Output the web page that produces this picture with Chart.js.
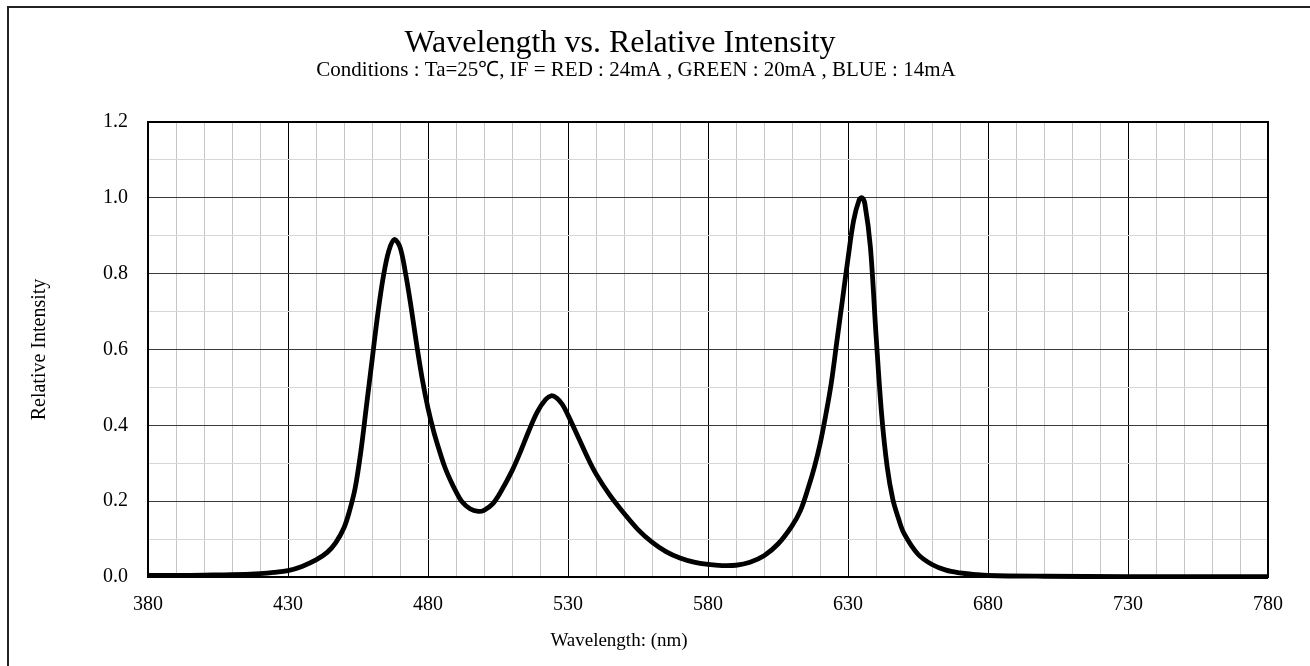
<!DOCTYPE html>
<html>
<head>
<meta charset="utf-8">
<title>Wavelength vs. Relative Intensity</title>
<script src="https://cdn.jsdelivr.net/npm/chart.js@4.4.1/dist/chart.umd.min.js"></script>
<style>
    html, body { margin: 0; padding: 0; background: #fff; }
    #wrap { width: 1310px; height: 666px; }
</style>
</head>
<body>
<div id="wrap"><canvas id="spectrumChart" width="1310" height="666"></canvas></div>
<script>
// Spectrum
const wavelengths = [
    380, 390, 400, 410, 420, 425, 430, 435, 440, 444, 447, 450, 452, 454, 456, 458,
    460, 462, 464, 466, 468, 470, 472, 474, 476, 478, 480, 482, 484, 486, 488,
    490, 492, 495, 498, 500, 503, 506, 510, 513, 516, 519, 522, 524, 526, 528, 530,
    534, 537, 540, 545, 550, 555, 560, 565, 570, 575, 580, 585, 590, 595, 600, 605,
    610, 613, 616, 618, 620, 622, 624, 626, 628, 630, 632, 634, 635, 636, 638,
    640, 642, 644, 646, 648, 650, 655, 660, 665, 670, 675, 680, 700, 730, 780
];
const intensity = [
    0.004, 0.004, 0.005, 0.006, 0.009, 0.012, 0.017, 0.028, 0.045, 0.065, 0.09, 0.13, 0.175, 0.235, 0.33, 0.45,
    0.57, 0.69, 0.79, 0.86, 0.89, 0.87, 0.80, 0.71, 0.61, 0.52, 0.445, 0.385, 0.335, 0.29, 0.255,
    0.225, 0.20, 0.18, 0.173, 0.176, 0.192, 0.225, 0.28, 0.33, 0.385, 0.435, 0.468, 0.478, 0.472, 0.455, 0.427,
    0.363, 0.315, 0.272, 0.215, 0.168, 0.125, 0.092, 0.067, 0.05, 0.039, 0.033, 0.030, 0.031, 0.039, 0.056, 0.087,
    0.135, 0.175, 0.24, 0.29, 0.35, 0.425, 0.51, 0.62, 0.73, 0.84, 0.94, 0.995, 1.0, 0.985, 0.87,
    0.64, 0.43, 0.29, 0.205, 0.155, 0.115, 0.06, 0.033, 0.018, 0.011, 0.007, 0.004, 0.002, 0.001, 0.001
];

// Labelled ticks (minor grid every 10 nm / 0.1)
const xTickLabels = [380, 430, 480, 530, 580, 630, 680, 730, 780];
const yTickLabels = ['0.0', '0.2', '0.4', '0.6', '0.8', '1.0', '1.2'];

const chartTitle = 'Wavelength vs. Relative Intensity';
const chartSubtitle = 'Conditions : Ta=25\u2103, IF = RED : 24mA , GREEN : 20mA , BLUE : 14mA';
const xAxisTitle = 'Wavelength: (nm)';
const yAxisTitle = 'Relative Intensity';

const serif = '"Liberation Serif", "Times New Roman", serif';

const isMajorX = v => xTickLabels.includes(Math.round(v));
const yLabelFor = v => (Math.round(v * 10) / 10).toFixed(1);
const isMajorY = v => yTickLabels.includes(yLabelFor(v));

// Frame, page border and text drawn on the canvas
const decorPlugin = {
    id: 'decor',
    beforeDraw(chart) {
        const ctx = chart.ctx;
        ctx.save();
        ctx.fillStyle = '#fff';
        ctx.fillRect(0, 0, chart.width, chart.height);
        // page border (top + left only visible)
        ctx.strokeStyle = '#222';
        ctx.lineWidth = 2;
        ctx.beginPath();
        ctx.moveTo(8, chart.height);
        ctx.lineTo(8, 7);
        ctx.lineTo(chart.width, 7);
        ctx.stroke();

        ctx.fillStyle = '#000';
        ctx.textAlign = 'center';
        ctx.textBaseline = 'alphabetic';
        ctx.font = '32px ' + serif;
        ctx.fillText(chartTitle, 620, 52);
        ctx.font = '21px ' + serif;
        ctx.fillText(chartSubtitle, 636, 76);

        ctx.textBaseline = 'middle';
        ctx.font = '19px ' + serif;
        ctx.fillText(xAxisTitle, 619, 641);

        const a = chart.chartArea;
        ctx.font = '20px ' + serif;
        ctx.translate(40, (a.top + a.bottom) / 2);
        ctx.rotate(-Math.PI / 2);
        ctx.fillText(yAxisTitle, 0, 0);
        ctx.restore();
    },
    beforeDatasetsDraw(chart) {
        const ctx = chart.ctx;
        const a = chart.chartArea;
        ctx.save();
        ctx.strokeStyle = '#000';
        ctx.lineWidth = 2;
        ctx.strokeRect(a.left, a.top, a.right - a.left, a.bottom - a.top);
        ctx.restore();
    }
};

const ctx = document.getElementById('spectrumChart').getContext('2d');
const spectrumChart = new Chart(ctx, {
    type: 'line',
    data: {
        datasets: [{
            label: 'Relative Intensity',
            data: wavelengths.map((w, i) => ({ x: w, y: intensity[i] })),
            borderColor: '#000',
            borderWidth: 4.8,
            pointRadius: 0,
            fill: false,
            tension: 0.35,
            borderJoinStyle: 'round'
        }]
    },
    options: {
        responsive: false,
        animation: false,
        clip: false,
        layout: {
            padding: { left: 0, top: 122, right: 42, bottom: 0 }
        },
        plugins: {
            legend: { display: false },
            title: { display: false },
            tooltip: { enabled: false }
        },
        scales: {
            x: {
                type: 'linear',
                min: 380,
                max: 780,
                afterFit: scale => { scale.height = 89; },
                ticks: {
                    stepSize: 10,
                    autoSkip: false,
                    maxRotation: 0,
                    padding: 16,
                    color: '#000',
                    font: { family: serif, size: 20 },
                    callback: value => isMajorX(value) ? String(Math.round(value)) : ''
                },
                grid: {
                    drawTicks: false,
                    lineWidth: 1,
                    color: c => isMajorX(c.tick.value) ? '#000' : '#c6c6c6'
                },
                border: { display: false }
            },
            y: {
                min: 0,
                max: 1.2,
                afterFit: scale => { scale.width = 148; },
                ticks: {
                    stepSize: 0.1,
                    autoSkip: false,
                    padding: 20,
                    color: '#000',
                    font: { family: serif, size: 20 },
                    callback: value => isMajorY(value) ? yLabelFor(value) : ''
                },
                grid: {
                    drawTicks: false,
                    lineWidth: 1,
                    color: c => isMajorY(c.tick.value) ? '#3a3a3a' : '#d6d6d6'
                },
                border: { display: false }
            }
        }
    },
    plugins: [decorPlugin]
});
</script>
</body>
</html>
